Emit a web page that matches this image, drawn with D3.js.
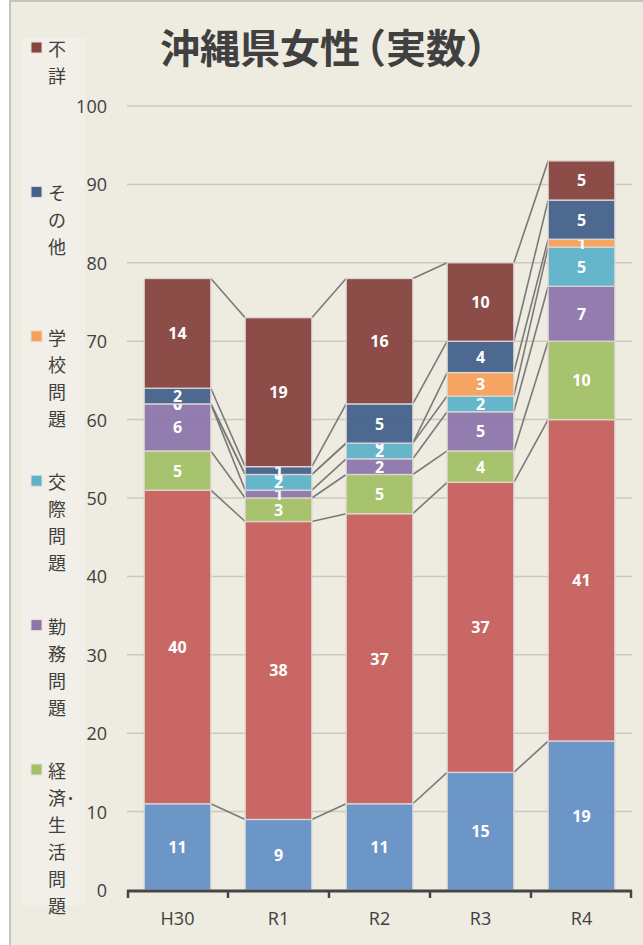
<!DOCTYPE html>
<html>
<head>
<meta charset="utf-8">
<script src="https://cdn.jsdelivr.net/npm/d3@7"></script>
<style>
  html, body { margin: 0; padding: 0; background: #ffffff; }
  svg { display: block; }
</style>
</head>
<body>
<div id="chart"></div>
<script>
// years on the x axis
const years = ["H30", "R1", "R2", "R3", "R4"];

// counts per cause, bottom of the stack first
const katei  = [11, 9, 11, 15, 19];   // 家庭問題
const kenko  = [40, 38, 37, 37, 41];  // 健康問題
const keizai = [5, 3, 5, 4, 10];      // 経済・生活問題
const kinmu  = [6, 1, 2, 5, 7];       // 勤務問題
const kousai = [0, 2, 2, 2, 5];       // 交際問題
const gakkou = [0, 0, 0, 3, 1];       // 学校問題
const sonota = [2, 1, 5, 4, 5];       // その他
const fusho  = [14, 19, 16, 10, 5];   // 不詳

const seriesKeys = ["katei", "kenko", "keizai", "kinmu", "kousai", "gakkou", "sonota", "fusho"];
const seriesNames = ["家庭問題", "健康問題", "経済・生活問題", "勤務問題", "交際問題", "学校問題", "その他", "不詳"];
const seriesColors = ["#6590c6", "#c75f5c", "#a3c066", "#8d75aa", "#5cb2c9", "#f79f59", "#44618a", "#86433f"];

// legend shows only the upper six, top first, as wrapped lines
const legendKeys = ["fusho", "sonota", "gakkou", "kousai", "kinmu", "keizai"];
const legendLines = [
    ["不", "詳"],
    ["そ", "の", "他"],
    ["学", "校", "問", "題"],
    ["交", "際", "問", "題"],
    ["勤", "務", "問", "題"],
    ["経", "済･", "生", "活", "問", "題"]
];

const yTicks = [0, 10, 20, 30, 40, 50, 60, 70, 80, 90, 100];

const values = { katei, kenko, keizai, kinmu, kousai, gakkou, sonota, fusho };
const table = years.map((y, i) => {
    const row = { year: y };
    seriesKeys.forEach(k => row[k] = values[k][i]);
    return row;
});

const width = 643, height = 945;
const textColor = "#404040";
const jp = "'Noto Sans CJK JP', 'Noto Sans', sans-serif";
const latin = "'Open Sans', 'Noto Sans', sans-serif";

const svg = d3.select("#chart")
    .append("svg")
    .attr("width", width)
    .attr("height", height);

// chart area with frame
svg.append("rect")
    .attr("x", 10).attr("y", 1)
    .attr("width", width).attr("height", height + 10)
    .attr("fill", "#eeebe0")
    .attr("stroke", "#c4c4c4")
    .attr("stroke-width", 2);

// scales
const x = d3.scaleBand()
    .domain(years)
    .range([127, 632])
    .paddingInner(0.34)
    .paddingOuter(0.17);

const y = d3.scaleLinear()
    .domain([0, 100])
    .range([890, 106]);

const color = d3.scaleOrdinal().domain(seriesKeys).range(seriesColors);

const stacked = d3.stack().keys(seriesKeys)(table);

// title, with the opening bracket pulled in
const title = svg.append("text")
    .attr("x", 160)
    .attr("y", 46)
    .attr("dominant-baseline", "central")
    .attr("font-family", jp)
    .attr("font-weight", 700)
    .attr("font-size", 40)
    .attr("fill", textColor);
title.append("tspan").text("沖縄県女性");
title.append("tspan").attr("dx", -14).text("（実数）");

// legend
const legend = svg.append("g");
legend.append("rect")
    .attr("x", 22).attr("y", 38)
    .attr("width", 63).attr("height", 867)
    .attr("fill", "#f1efe8");

legendKeys.forEach((k, i) => {
    const top = 48 + i * 144.4;
    legend.append("rect")
        .attr("x", 31).attr("y", top - 6)
        .attr("width", 11).attr("height", 11)
        .attr("fill", color(k))
        .attr("stroke", "#e6dede")
        .attr("stroke-width", 1);
    legend.selectAll(null)
        .data(legendLines[i])
        .enter()
        .append("text")
        .attr("x", 48)
        .attr("y", (d, j) => top + j * 27)
        .attr("dominant-baseline", "central")
        .attr("font-family", jp)
        .attr("font-size", 18)
        .attr("fill", textColor)
        .text(d => d);
});

// gridlines
svg.append("g")
    .selectAll("line")
    .data(yTicks.slice(1))
    .enter()
    .append("line")
    .attr("x1", 127).attr("x2", 632)
    .attr("y1", d => y(d)).attr("y2", d => y(d))
    .attr("stroke", "#cbc8bf")
    .attr("stroke-width", 1.5);

// y tick labels
svg.append("g")
    .selectAll("text")
    .data(yTicks)
    .enter()
    .append("text")
    .attr("x", 107)
    .attr("y", d => y(d))
    .attr("text-anchor", "end")
    .attr("dominant-baseline", "central")
    .attr("font-family", latin)
    .attr("font-size", 18)
    .attr("fill", textColor)
    .text(d => d);

// series lines between neighbouring bars
const lineG = svg.append("g");
stacked.forEach(layer => {
    for (let i = 0; i < years.length - 1; i++) {
        lineG.append("line")
            .attr("x1", x(years[i]) + x.bandwidth())
            .attr("y1", y(layer[i][1]))
            .attr("x2", x(years[i + 1]))
            .attr("y2", y(layer[i + 1][1]))
            .attr("stroke", "#7a7a7a")
            .attr("stroke-width", 1.6);
    }
});

// stacked bars
const layers = svg.append("g")
    .selectAll("g")
    .data(stacked)
    .enter()
    .append("g")
    .attr("fill", d => color(d.key));

layers.selectAll("rect")
    .data(d => d)
    .enter()
    .append("rect")
    .attr("x", d => x(d.data.year))
    .attr("y", d => y(d[1]))
    .attr("width", x.bandwidth())
    .attr("height", d => y(d[0]) - y(d[1]))
    .attr("fill-opacity", 0.94)
    .attr("stroke", "#ddd6d4")
    .attr("stroke-width", 1.3);

// data labels
layers.selectAll("text")
    .data(d => d)
    .enter()
    .append("text")
    .attr("x", d => x(d.data.year) + x.bandwidth() / 2)
    .attr("y", d => y((d[0] + d[1]) / 2))
    .attr("text-anchor", "middle")
    .attr("dominant-baseline", "central")
    .attr("font-family", latin)
    .attr("font-weight", 700)
    .attr("font-size", 16)
    .attr("fill", "#ffffff")
    .text(d => d[1] - d[0]);

// x axis
const step = x.step();
const tickXs = years.map(yr => x(yr) - x.paddingInner() * step / 2);
tickXs.push(632);

const axis = svg.append("g");
axis.append("line")
    .attr("x1", 127).attr("x2", 632)
    .attr("y1", 891).attr("y2", 891)
    .attr("stroke", "#454545")
    .attr("stroke-width", 3);
axis.selectAll("line.tick")
    .data(tickXs)
    .enter()
    .append("line")
    .attr("class", "tick")
    .attr("x1", d => Math.min(Math.max(d, 128), 631))
    .attr("x2", d => Math.min(Math.max(d, 128), 631))
    .attr("y1", 890).attr("y2", 898)
    .attr("stroke", "#454545")
    .attr("stroke-width", 2.5);
axis.selectAll("text")
    .data(years)
    .enter()
    .append("text")
    .attr("x", d => x(d) + x.bandwidth() / 2)
    .attr("y", 918)
    .attr("text-anchor", "middle")
    .attr("dominant-baseline", "central")
    .attr("font-family", latin)
    .attr("font-size", 18)
    .attr("fill", textColor)
    .text(d => d);
</script>
</body>
</html>
